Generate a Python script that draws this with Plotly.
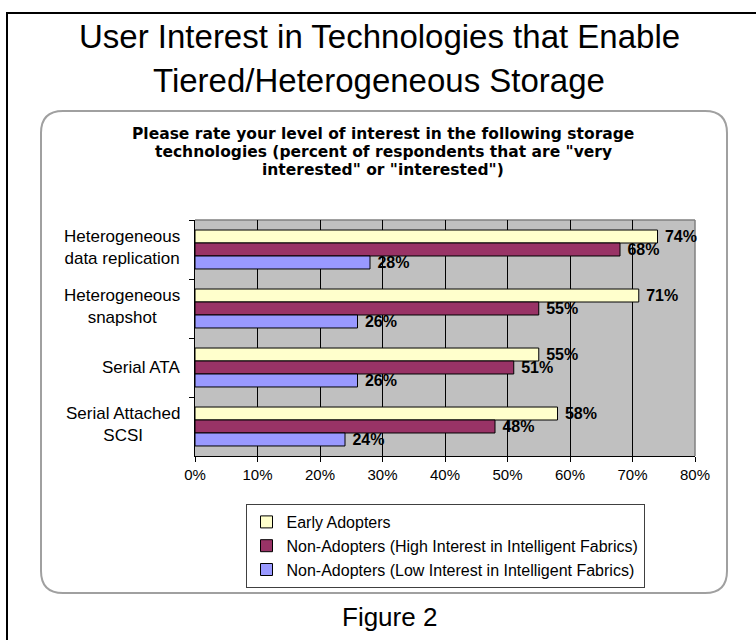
import plotly.graph_objects as go

# ---- data ----
categories = ["Heterogeneous<br>data replication", "Heterogeneous<br>snapshot",
              "Serial ATA", "Serial Attached<br>SCSI"]
series_names = ["Early Adopters",
                "Non-Adopters (High Interest in Intelligent Fabrics)",
                "Non-Adopters (Low Interest in Intelligent Fabrics)"]
early_adopters = [74, 71, 55, 58]
non_adopters_high = [68, 55, 51, 48]
non_adopters_low = [28, 26, 26, 24]
x_ticks = [0, 10, 20, 30, 40, 50, 60, 70, 80]
x_tick_labels = ["0%", "10%", "20%", "30%", "40%", "50%", "60%", "70%", "80%"]

title_lines = ["User Interest in Technologies that Enable", "Tiered/Heterogeneous Storage"]
subtitle_lines = ["Please rate your level of interest in the following storage",
                  "technologies (percent of respondents that are \"very",
                  "interested\" or \"interested\")"]
footer_text = "Figure 2"

colors = ["#FFFFCC", "#993366", "#9999FF"]
values = [early_adopters, non_adopters_high, non_adopters_low]

W, H = 756, 640
L, R, T, B = 195, 695, 220, 456
FONT = "Liberation Sans, Arial, sans-serif"
WIDE = "DejaVu Sans, Verdana, sans-serif"


def px(x):
    return (x - L) / (R - L)


def py(y):
    return (B - y) / (B - T)


fig = go.Figure()
for name, vals, col in zip(series_names, values, colors):
    fig.add_trace(go.Bar(
        y=categories, x=vals, name=name, orientation="h",
        marker=dict(color=col, line=dict(color="black", width=1)),
        text=[f"&nbsp;{v}%" for v in vals], textposition="outside",
        textfont=dict(family=FONT, size=16, color="black", weight="bold"),
        cliponaxis=False, legendgroup=name,
    ))

# rounded inner box
x0, x1, y0, y1, r = px(41), px(727), py(111), py(593), 22
rx, ry = r / (R - L), r / (B - T)
path = (f"M {x0+rx},{y0} L {x1-rx},{y0} Q {x1},{y0} {x1},{y0-ry} "
        f"L {x1},{y1+ry} Q {x1},{y1} {x1-rx},{y1} "
        f"L {x0+rx},{y1} Q {x0},{y1} {x0},{y1+ry} "
        f"L {x0},{y0-ry} Q {x0},{y0} {x0+rx},{y0} Z")

shapes = [
    dict(type="rect", xref="paper", yref="paper", x0=px(7), x1=px(780), y0=py(13), y1=py(680),
         line=dict(color="black", width=2), layer="below"),
    dict(type="path", xref="paper", yref="paper", path=path,
         line=dict(color="#A0A0A0", width=2), layer="below"),
    dict(type="line", xref="paper", yref="paper", x0=0, x1=1, y0=1, y1=1,
         line=dict(color="#808080", width=1.5), layer="between"),
    dict(type="line", xref="paper", yref="paper", x0=1, x1=1, y0=0, y1=1,
         line=dict(color="#808080", width=1.5), layer="between"),
]

annotations = []
for line, yc in zip(title_lines, [36, 80]):
    annotations.append(dict(text=line, xref="paper", yref="paper", x=px(379), y=py(yc),
                            showarrow=False, font=dict(family=FONT, size=33, color="black"),
                            xanchor="center", yanchor="middle"))
for line, yc in zip(subtitle_lines, [134, 152, 170]):
    annotations.append(dict(text=line, xref="paper", yref="paper", x=px(383), y=py(yc),
                            showarrow=False,
                            font=dict(family=WIDE, size=15.5, color="black", weight="bold"),
                            xanchor="center", yanchor="middle"))
annotations.append(dict(text=footer_text, xref="paper", yref="paper", x=px(389), y=py(617),
                        showarrow=False, font=dict(family=FONT, size=26, color="black"),
                        xanchor="center", yanchor="middle"))
for c in categories:
    annotations.append(dict(text=c, xref="paper", yref="y", x=px(182), y=c,
                            showarrow=False, xanchor="right", yanchor="middle",
                            yshift=2 if "<br>" in c else 0,
                            align="center", font=dict(family=FONT, size=17, color="black")))

fig.update_layout(
    width=W, height=H,
    margin=dict(l=L, r=W - R, t=T, b=H - B, pad=0),
    paper_bgcolor="white", plot_bgcolor="#C0C0C0",
    barmode="group", bargap=0.34, bargroupgap=0,
    font=dict(family=FONT, size=14, color="black"),
    showlegend=True,
    legend=dict(x=px(445), y=py(504), xanchor="center", yanchor="top",
                bordercolor="#404040", borderwidth=1, bgcolor="white",
                font=dict(family=FONT, size=16, color="black"),
                traceorder="normal", tracegroupgap=5, itemwidth=30),
    xaxis=dict(range=[0, 80], tickvals=x_ticks, ticktext=x_tick_labels,
               showgrid=True, gridcolor="black", gridwidth=1,
               showline=True, linecolor="black", linewidth=1,
               ticks="outside", ticklen=5, tickcolor="black",
               tickfont=dict(family=FONT, size=15), zeroline=False, fixedrange=True),
    yaxis=dict(autorange="reversed", showticklabels=False,
               ticks="outside", tickson="boundaries", ticklen=5, tickcolor="black",
               showline=True, linecolor="black", linewidth=1, showgrid=False,
               fixedrange=True),
    shapes=shapes, annotations=annotations,
)
fig.update_traces(constraintext="none")

fig.write_html("out.html")
